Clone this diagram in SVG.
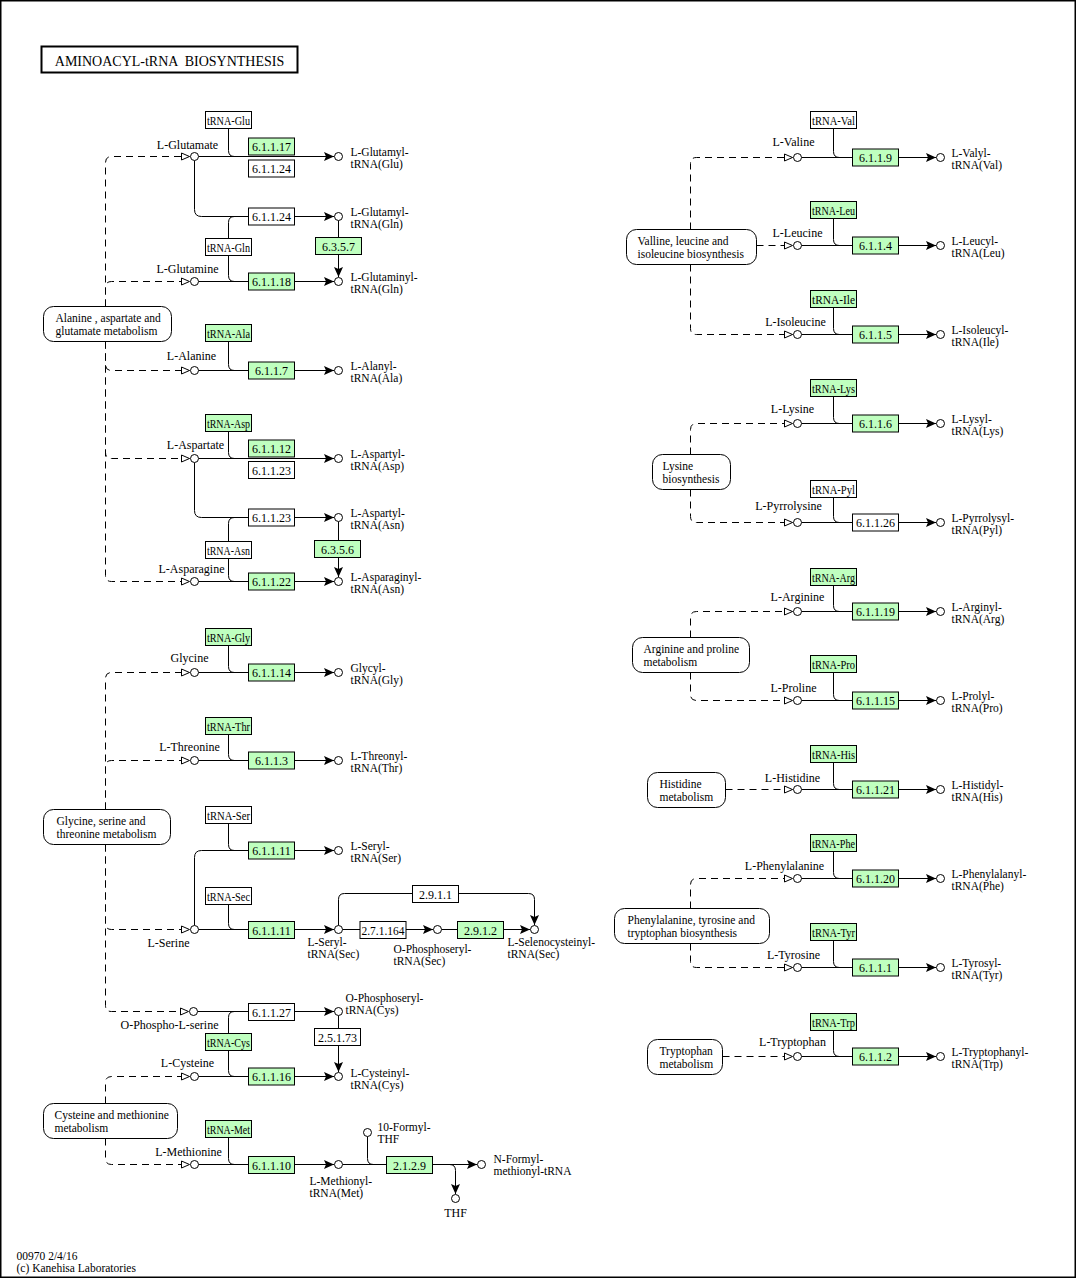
<svg xmlns="http://www.w3.org/2000/svg" width="1076" height="1278" viewBox="0 0 1076 1278">
<style>
text{font-family:"Liberation Serif","Times New Roman",serif;font-size:12px;fill:#000}
.t2{font-size:11.5px}
.m{text-anchor:middle}
.b rect{fill:#fff;stroke:#000;stroke-width:1}
.g rect{fill:#bfffbf;stroke:#000;stroke-width:1}
.p rect{fill:#fff;stroke:#000;stroke-width:1}
circle{fill:#fff;stroke:#000;stroke-width:1}
#conn path{fill:none;stroke:#000;stroke-width:1}
#conn .d{stroke-dasharray:7 5;marker-end:url(#ha)}
#conn .a{marker-end:url(#fa)}
</style>
<defs>
<marker id="fa" markerUnits="userSpaceOnUse" markerWidth="11" markerHeight="10" refX="10" refY="4.5" orient="auto" overflow="visible">
<path d="M0,0 L10,4.5 L0,9 L2,4.5 z" fill="#000" stroke="none"/>
</marker>
<marker id="ha" markerUnits="userSpaceOnUse" markerWidth="10" markerHeight="8" refX="8" refY="3.5" orient="auto" overflow="visible">
<path d="M0,0 L8,3.5 L0,7 z" fill="#fff" stroke="#000" stroke-width="1" stroke-dasharray="none"/>
</marker>
</defs>
<rect x="0.75" y="0.75" width="1074.5" height="1276.5" fill="#fff" stroke="#000" stroke-width="1.5"/>
<g transform="translate(0.5,0.5)">
<g id="title">
<rect x="41" y="46" width="256" height="26" fill="#fff" stroke="#000" stroke-width="2"/>
<text x="169" y="65" class="m" style="font-size:14px" xml:space="preserve">AMINOACYL-tRNA  BIOSYNTHESIS</text>
</g>

<g id="conn">
<path class="d" d="M105,306 V162 Q105,156 111,156 H189"/>
<path class="d" d="M105,306 V287 Q105,281 111,281 H189"/>
<path class="d" d="M105,341 V364 Q105,370 111,370 H189"/>
<path class="d" d="M105,341 V452 Q105,458 111,458 H189"/>
<path class="d" d="M105,341 V575 Q105,581 111,581 H189"/>
<path class="d" d="M105,809 V678 Q105,672 111,672 H189"/>
<path class="d" d="M105,809 V766 Q105,760 111,760 H189"/>
<path class="d" d="M105,844 V923 Q105,929 111,929 H189"/>
<path class="d" d="M105,844 V1005 Q105,1011 111,1011 H188"/>
<path class="d" d="M105,1103 V1082 Q105,1076 111,1076 H189"/>
<path class="d" d="M105,1138 V1158 Q105,1164 111,1164 H189"/>
<path class="d" d="M690,229 V163 Q690,157 696,157 H792"/>
<path class="d" d="M756,245 H792"/>
<path class="d" d="M690,264 V328 Q690,334 696,334 H792"/>
<path class="d" d="M690,454 V429 Q690,423 696,423 H792"/>
<path class="d" d="M690,489 V516 Q690,522 696,522 H792"/>
<path class="d" d="M690,637 V617 Q690,611 696,611 H792"/>
<path class="d" d="M690,672 V694 Q690,700 696,700 H792"/>
<path class="d" d="M725,789 H792"/>
<path class="d" d="M690,908 V884 Q690,878 696,878 H792"/>
<path class="d" d="M690,943 V961 Q690,967 696,967 H792"/>
<path class="d" d="M722,1056 H792"/>
<path class="a" d="M198,156 H333.5"/>
<path d="M228,128 V150 Q228,156 234,156"/>
<path class="a" d="M194,160 V209 Q194,216 201,216 H333.5"/>
<path d="M228,238 V222 Q228,216 234,216"/>
<path d="M228,255 V275 Q228,281 234,281"/>
<path class="a" d="M338,220 V276.5"/>
<path class="a" d="M198,281 H333.5"/>
<path class="a" d="M198,370 H333.5"/>
<path d="M228,341 V364 Q228,370 234,370"/>
<path class="a" d="M198,458 H333.5"/>
<path d="M228,431 V452 Q228,458 234,458"/>
<path class="a" d="M194,462 V510 Q194,517 201,517 H333.5"/>
<path d="M228,541 V523 Q228,517 234,517"/>
<path d="M228,558 V575 Q228,581 234,581"/>
<path class="a" d="M338,521 V576.5"/>
<path class="a" d="M198,581 H333.5"/>
<path class="a" d="M198,672 H333.5"/>
<path d="M228,645 V666 Q228,672 234,672"/>
<path class="a" d="M198,760 H333.5"/>
<path d="M228,734 V754 Q228,760 234,760"/>
<path class="a" d="M194,925 V857 Q194,850 201,850 H333.5"/>
<path d="M228,823 V844 Q228,850 234,850"/>
<path class="a" d="M198,929 H333.5"/>
<path d="M228,904 V923 Q228,929 234,929"/>
<path class="a" d="M342,929 H432.5"/>
<path class="a" d="M441,929 H529.5"/>
<path class="a" d="M338,925 V899 Q338,893 344,893 H528 Q534,893 534,899 V924.5"/>
<path class="a" d="M197,1011 H333.5"/>
<path d="M228,1033 V1017 Q228,1011 234,1011"/>
<path d="M228,1050 V1070 Q228,1076 234,1076"/>
<path class="a" d="M338,1015 V1071.5"/>
<path class="a" d="M198,1076 H333.5"/>
<path class="a" d="M198,1164 H333.5"/>
<path d="M228,1137 V1158 Q228,1164 234,1164"/>
<path class="a" d="M342,1164 H476.5"/>
<path d="M367,1136 V1158 Q367,1164 373,1164"/>
<path class="a" d="M449,1164 Q455,1164 455,1170 V1193.5"/>
<path class="a" d="M801,157 H935.5"/><path d="M833,128 V151 Q833,157 839,157"/>
<path class="a" d="M801,245 H935.5"/><path d="M833,218 V239 Q833,245 839,245"/>
<path class="a" d="M801,334 H935.5"/><path d="M833,307 V328 Q833,334 839,334"/>
<path class="a" d="M801,423 H935.5"/><path d="M833,396 V417 Q833,423 839,423"/>
<path class="a" d="M801,522 H935.5"/><path d="M833,497 V516 Q833,522 839,522"/>
<path class="a" d="M801,611 H935.5"/><path d="M833,585 V605 Q833,611 839,611"/>
<path class="a" d="M801,700 H935.5"/><path d="M833,672 V694 Q833,700 839,700"/>
<path class="a" d="M801,789 H935.5"/><path d="M833,762 V783 Q833,789 839,789"/>
<path class="a" d="M801,878 H935.5"/><path d="M833,851 V872 Q833,878 839,878"/>
<path class="a" d="M801,967 H935.5"/><path d="M833,940 V961 Q833,967 839,967"/>
<path class="a" d="M801,1056 H935.5"/><path d="M833,1030 V1050 Q833,1056 839,1056"/>
</g>

<g id="map_ala_asp_glu" class="p"><rect x="43" y="306" width="128" height="35" rx="10"/><text class="t2" x="55" y="321.5">Alanine , aspartate and<tspan x="55" dy="12.8">glutamate metabolism</tspan></text></g>
<g id="map_gly_ser_thr" class="p"><rect x="43" y="809" width="127" height="35" rx="10"/><text class="t2" x="56" y="824.5">Glycine, serine and<tspan x="56" dy="12.8">threonine metabolism</tspan></text></g>
<g id="map_cys_met" class="p"><rect x="43" y="1103" width="134" height="35" rx="10"/><text class="t2" x="54" y="1118.5">Cysteine and methionine<tspan x="54" dy="12.8">metabolism</tspan></text></g>
<g id="map_val_leu_ile" class="p"><rect x="626" y="229" width="130" height="35" rx="10"/><text class="t2" x="637" y="244.5">Valline, leucine and<tspan x="637" dy="12.8">isoleucine biosynthesis</tspan></text></g>
<g id="map_lys" class="p"><rect x="652" y="454" width="78" height="35" rx="10"/><text class="t2" x="662" y="469.5">Lysine<tspan x="662" dy="12.8">biosynthesis</tspan></text></g>
<g id="map_arg_pro" class="p"><rect x="632" y="637" width="117" height="35" rx="10"/><text class="t2" x="643" y="652.5">Arginine and proline<tspan x="643" dy="12.8">metabolism</tspan></text></g>
<g id="map_his" class="p"><rect x="647" y="772" width="78" height="35" rx="10"/><text class="t2" x="659" y="787.5">Histidine<tspan x="659" dy="12.8">metabolism</tspan></text></g>
<g id="map_phe_tyr_trp" class="p"><rect x="614" y="908" width="155" height="35" rx="10"/><text class="t2" x="627" y="923.5">Phenylalanine, tyrosine and<tspan x="627" dy="12.8">tryptophan biosynthesis</tspan></text></g>
<g id="map_trp" class="p"><rect x="647" y="1039" width="75" height="35" rx="10"/><text class="t2" x="659" y="1054.5">Tryptophan<tspan x="659" dy="12.8">metabolism</tspan></text></g>

<g id="trna_glu" class="b"><rect x="205" y="111" width="46" height="17"/><text x="228" y="124" class="m" textLength="43" lengthAdjust="spacingAndGlyphs">tRNA-Glu</text></g>
<g id="trna_gln" class="b"><rect x="205" y="238" width="46" height="17"/><text x="228" y="251" class="m" textLength="43" lengthAdjust="spacingAndGlyphs">tRNA-Gln</text></g>
<g id="trna_ala" class="g"><rect x="205" y="324" width="46" height="17"/><text x="228" y="337" class="m" textLength="43" lengthAdjust="spacingAndGlyphs">tRNA-Ala</text></g>
<g id="trna_asp" class="g"><rect x="205" y="414" width="46" height="17"/><text x="228" y="427" class="m" textLength="43" lengthAdjust="spacingAndGlyphs">tRNA-Asp</text></g>
<g id="trna_asn" class="b"><rect x="205" y="541" width="46" height="17"/><text x="228" y="554" class="m" textLength="43" lengthAdjust="spacingAndGlyphs">tRNA-Asn</text></g>
<g id="trna_gly" class="g"><rect x="205" y="628" width="46" height="17"/><text x="228" y="641" class="m" textLength="43" lengthAdjust="spacingAndGlyphs">tRNA-Gly</text></g>
<g id="trna_thr" class="g"><rect x="205" y="717" width="46" height="17"/><text x="228" y="730" class="m" textLength="43" lengthAdjust="spacingAndGlyphs">tRNA-Thr</text></g>
<g id="trna_ser" class="b"><rect x="205" y="806" width="46" height="17"/><text x="228" y="819" class="m" textLength="43" lengthAdjust="spacingAndGlyphs">tRNA-Ser</text></g>
<g id="trna_sec" class="b"><rect x="205" y="887" width="46" height="17"/><text x="228" y="900" class="m" textLength="43" lengthAdjust="spacingAndGlyphs">tRNA-Sec</text></g>
<g id="trna_cys" class="g"><rect x="205" y="1033" width="46" height="17"/><text x="228" y="1046" class="m" textLength="43" lengthAdjust="spacingAndGlyphs">tRNA-Cys</text></g>
<g id="trna_met" class="g"><rect x="205" y="1120" width="46" height="17"/><text x="228" y="1133" class="m" textLength="43" lengthAdjust="spacingAndGlyphs">tRNA-Met</text></g>
<g id="trna_val" class="b"><rect x="810" y="111" width="46" height="17"/><text x="833" y="124" class="m" textLength="43" lengthAdjust="spacingAndGlyphs">tRNA-Val</text></g>
<g id="trna_leu" class="g"><rect x="810" y="201" width="46" height="17"/><text x="833" y="214" class="m" textLength="43" lengthAdjust="spacingAndGlyphs">tRNA-Leu</text></g>
<g id="trna_ile" class="g"><rect x="810" y="290" width="46" height="17"/><text x="833" y="303" class="m" textLength="43" lengthAdjust="spacingAndGlyphs">tRNA-Ile</text></g>
<g id="trna_lys" class="g"><rect x="810" y="379" width="46" height="17"/><text x="833" y="392" class="m" textLength="43" lengthAdjust="spacingAndGlyphs">tRNA-Lys</text></g>
<g id="trna_pyl" class="b"><rect x="810" y="480" width="46" height="17"/><text x="833" y="493" class="m" textLength="43" lengthAdjust="spacingAndGlyphs">tRNA-Pyl</text></g>
<g id="trna_arg" class="g"><rect x="810" y="568" width="46" height="17"/><text x="833" y="581" class="m" textLength="43" lengthAdjust="spacingAndGlyphs">tRNA-Arg</text></g>
<g id="trna_pro" class="g"><rect x="810" y="655" width="46" height="17"/><text x="833" y="668" class="m" textLength="43" lengthAdjust="spacingAndGlyphs">tRNA-Pro</text></g>
<g id="trna_his" class="g"><rect x="810" y="745" width="46" height="17"/><text x="833" y="758" class="m" textLength="43" lengthAdjust="spacingAndGlyphs">tRNA-His</text></g>
<g id="trna_phe" class="g"><rect x="810" y="834" width="46" height="17"/><text x="833" y="847" class="m" textLength="43" lengthAdjust="spacingAndGlyphs">tRNA-Phe</text></g>
<g id="trna_tyr" class="g"><rect x="810" y="923" width="46" height="17"/><text x="833" y="936" class="m" textLength="43" lengthAdjust="spacingAndGlyphs">tRNA-Tyr</text></g>
<g id="trna_trp" class="g"><rect x="810" y="1013" width="46" height="17"/><text x="833" y="1026" class="m" textLength="43" lengthAdjust="spacingAndGlyphs">tRNA-Trp</text></g>

<g id="ec_6_1_1_17" class="g"><rect x="248" y="137.5" width="46" height="17"/><text x="271" y="150.5" class="m">6.1.1.17</text></g>
<g id="ec_6_1_1_24a" class="b"><rect x="248" y="159.5" width="46" height="17"/><text x="271" y="172.5" class="m">6.1.1.24</text></g>
<g id="ec_6_1_1_24b" class="b"><rect x="248" y="207.5" width="46" height="17"/><text x="271" y="220.5" class="m">6.1.1.24</text></g>
<g id="ec_6_3_5_7" class="g"><rect x="315" y="237" width="46" height="17"/><text x="338" y="250" class="m">6.3.5.7</text></g>
<g id="ec_6_1_1_18" class="g"><rect x="248" y="272.5" width="46" height="17"/><text x="271" y="285.5" class="m">6.1.1.18</text></g>
<g id="ec_6_1_1_7" class="g"><rect x="248" y="361.5" width="46" height="17"/><text x="271" y="374.5" class="m">6.1.1.7</text></g>
<g id="ec_6_1_1_12" class="g"><rect x="248" y="439.5" width="46" height="17"/><text x="271" y="452.5" class="m">6.1.1.12</text></g>
<g id="ec_6_1_1_23a" class="b"><rect x="248" y="461" width="46" height="17"/><text x="271" y="474" class="m">6.1.1.23</text></g>
<g id="ec_6_1_1_23b" class="b"><rect x="248" y="508.5" width="46" height="17"/><text x="271" y="521.5" class="m">6.1.1.23</text></g>
<g id="ec_6_3_5_6" class="g"><rect x="314" y="540" width="46" height="17"/><text x="337" y="553" class="m">6.3.5.6</text></g>
<g id="ec_6_1_1_22" class="g"><rect x="248" y="572.5" width="46" height="17"/><text x="271" y="585.5" class="m">6.1.1.22</text></g>
<g id="ec_6_1_1_14" class="g"><rect x="248" y="663.5" width="46" height="17"/><text x="271" y="676.5" class="m">6.1.1.14</text></g>
<g id="ec_6_1_1_3" class="g"><rect x="248" y="751.5" width="46" height="17"/><text x="271" y="764.5" class="m">6.1.1.3</text></g>
<g id="ec_6_1_1_11a" class="g"><rect x="248" y="841.5" width="46" height="17"/><text x="271" y="854.5" class="m">6.1.1.11</text></g>
<g id="ec_6_1_1_11b" class="g"><rect x="248" y="921" width="46" height="17"/><text x="271" y="934" class="m">6.1.1.11</text></g>
<g id="ec_2_7_1_164" class="b"><rect x="359.5" y="921" width="46" height="17"/><text x="382.5" y="934" class="m" textLength="43" lengthAdjust="spacingAndGlyphs">2.7.1.164</text></g>
<g id="ec_2_9_1_2" class="g"><rect x="457" y="921" width="46" height="17"/><text x="480" y="934" class="m">2.9.1.2</text></g>
<g id="ec_2_9_1_1" class="b"><rect x="412" y="885" width="46" height="17"/><text x="435" y="898" class="m">2.9.1.1</text></g>
<g id="ec_6_1_1_27" class="b"><rect x="248" y="1003" width="46" height="17"/><text x="271" y="1016" class="m">6.1.1.27</text></g>
<g id="ec_2_5_1_73" class="b"><rect x="314" y="1028" width="46" height="17"/><text x="337" y="1041" class="m">2.5.1.73</text></g>
<g id="ec_6_1_1_16" class="g"><rect x="248" y="1067.5" width="46" height="17"/><text x="271" y="1080.5" class="m">6.1.1.16</text></g>
<g id="ec_6_1_1_10" class="g"><rect x="248" y="1156" width="46" height="17"/><text x="271" y="1169" class="m">6.1.1.10</text></g>
<g id="ec_2_1_2_9" class="g"><rect x="386" y="1156" width="46" height="17"/><text x="409" y="1169" class="m">2.1.2.9</text></g>
<g id="ec_6_1_1_9" class="g"><rect x="852" y="148.5" width="46" height="17"/><text x="875" y="161.5" class="m">6.1.1.9</text></g>
<g id="ec_6_1_1_4" class="g"><rect x="852" y="236.5" width="46" height="17"/><text x="875" y="249.5" class="m">6.1.1.4</text></g>
<g id="ec_6_1_1_5" class="g"><rect x="852" y="325.5" width="46" height="17"/><text x="875" y="338.5" class="m">6.1.1.5</text></g>
<g id="ec_6_1_1_6" class="g"><rect x="852" y="414.5" width="46" height="17"/><text x="875" y="427.5" class="m">6.1.1.6</text></g>
<g id="ec_6_1_1_26" class="b"><rect x="852" y="513.5" width="46" height="17"/><text x="875" y="526.5" class="m">6.1.1.26</text></g>
<g id="ec_6_1_1_19" class="g"><rect x="852" y="602.5" width="46" height="17"/><text x="875" y="615.5" class="m">6.1.1.19</text></g>
<g id="ec_6_1_1_15" class="g"><rect x="852" y="691.5" width="46" height="17"/><text x="875" y="704.5" class="m">6.1.1.15</text></g>
<g id="ec_6_1_1_21" class="g"><rect x="852" y="780.5" width="46" height="17"/><text x="875" y="793.5" class="m">6.1.1.21</text></g>
<g id="ec_6_1_1_20" class="g"><rect x="852" y="869.5" width="46" height="17"/><text x="875" y="882.5" class="m">6.1.1.20</text></g>
<g id="ec_6_1_1_1" class="g"><rect x="852" y="958.5" width="46" height="17"/><text x="875" y="971.5" class="m">6.1.1.1</text></g>
<g id="ec_6_1_1_2" class="g"><rect x="852" y="1047.5" width="46" height="17"/><text x="875" y="1060.5" class="m">6.1.1.2</text></g>

<g id="c_glutamate"><circle cx="194" cy="156" r="4"/><text x="187" y="148" class="m">L-Glutamate</text></g>
<g id="c_glutamine"><circle cx="194" cy="281" r="4"/><text x="187" y="272" class="m">L-Glutamine</text></g>
<g id="c_alanine"><circle cx="194" cy="370" r="4"/><text x="191" y="359" class="m">L-Alanine</text></g>
<g id="c_aspartate"><circle cx="194" cy="458" r="4"/><text x="195" y="448" class="m">L-Aspartate</text></g>
<g id="c_asparagine"><circle cx="194" cy="581" r="4"/><text x="191" y="572" class="m">L-Asparagine</text></g>
<g id="c_glycine"><circle cx="194" cy="672" r="4"/><text x="189" y="661" class="m">Glycine</text></g>
<g id="c_threonine"><circle cx="194" cy="760" r="4"/><text x="189" y="750" class="m">L-Threonine</text></g>
<g id="c_serine"><circle cx="194" cy="929" r="4"/><text x="168" y="946" class="m">L-Serine</text></g>
<g id="c_ophosphoserine"><circle cx="193" cy="1011" r="4"/><text x="169" y="1028" class="m">O-Phospho-L-serine</text></g>
<g id="c_cysteine"><circle cx="194" cy="1076" r="4"/><text x="187" y="1066" class="m">L-Cysteine</text></g>
<g id="c_methionine"><circle cx="194" cy="1164" r="4"/><text x="188" y="1155" class="m">L-Methionine</text></g>

<g id="c_glu_trna_glu"><circle cx="338" cy="156" r="4"/><text class="t2" x="350" y="155">L-Glutamyl-<tspan x="350" dy="12.8">tRNA(Glu)</tspan></text></g>
<g id="c_glu_trna_gln"><circle cx="338" cy="216" r="4"/><text class="t2" x="350" y="215">L-Glutamyl-<tspan x="350" dy="12.8">tRNA(Gln)</tspan></text></g>
<g id="c_gln_trna_gln"><circle cx="338" cy="281" r="4"/><text class="t2" x="350" y="280">L-Glutaminyl-<tspan x="350" dy="12.8">tRNA(Gln)</tspan></text></g>
<g id="c_ala_trna"><circle cx="338" cy="370" r="4"/><text class="t2" x="350" y="369">L-Alanyl-<tspan x="350" dy="12.8">tRNA(Ala)</tspan></text></g>
<g id="c_asp_trna_asp"><circle cx="338" cy="458" r="4"/><text class="t2" x="350" y="457">L-Aspartyl-<tspan x="350" dy="12.8">tRNA(Asp)</tspan></text></g>
<g id="c_asp_trna_asn"><circle cx="338" cy="517" r="4"/><text class="t2" x="350" y="516">L-Aspartyl-<tspan x="350" dy="12.8">tRNA(Asn)</tspan></text></g>
<g id="c_asn_trna"><circle cx="338" cy="581" r="4"/><text class="t2" x="350" y="580">L-Asparaginyl-<tspan x="350" dy="12.8">tRNA(Asn)</tspan></text></g>
<g id="c_gly_trna"><circle cx="338" cy="672" r="4"/><text class="t2" x="350" y="671">Glycyl-<tspan x="350" dy="12.8">tRNA(Gly)</tspan></text></g>
<g id="c_thr_trna"><circle cx="338" cy="760" r="4"/><text class="t2" x="350" y="759">L-Threonyl-<tspan x="350" dy="12.8">tRNA(Thr)</tspan></text></g>
<g id="c_ser_trna_ser"><circle cx="338" cy="850" r="4"/><text class="t2" x="350" y="849">L-Seryl-<tspan x="350" dy="12.8">tRNA(Ser)</tspan></text></g>
<g id="c_ser_trna_sec"><circle cx="338" cy="929" r="4"/><text class="t2" x="307" y="945">L-Seryl-<tspan x="307" dy="12.8">tRNA(Sec)</tspan></text></g>
<g id="c_pser_trna_sec"><circle cx="437" cy="929" r="4"/><text class="t2" x="393" y="952">O-Phosphoseryl-<tspan x="393" dy="12.8">tRNA(Sec)</tspan></text></g>
<g id="c_sec_trna"><circle cx="534" cy="929" r="4"/><text class="t2" x="507" y="945">L-Selenocysteinyl-<tspan x="507" dy="12.8">tRNA(Sec)</tspan></text></g>
<g id="c_pser_trna_cys"><circle cx="338" cy="1011" r="4"/><text class="t2" x="345" y="1001">O-Phosphoseryl-<tspan x="345" dy="12.8">tRNA(Cys)</tspan></text></g>
<g id="c_cys_trna"><circle cx="338" cy="1076" r="4"/><text class="t2" x="350" y="1076">L-Cysteinyl-<tspan x="350" dy="12.8">tRNA(Cys)</tspan></text></g>
<g id="c_met_trna"><circle cx="338" cy="1164" r="4"/><text class="t2" x="309" y="1184">L-Methionyl-<tspan x="309" dy="12.8">tRNA(Met)</tspan></text></g>
<g id="c_formylthf"><circle cx="367" cy="1132" r="4"/><text class="t2" x="377" y="1130">10-Formyl-<tspan x="377" dy="12.8">THF</tspan></text></g>
<g id="c_fmet_trna"><circle cx="481" cy="1164" r="4"/><text class="t2" x="493" y="1162">N-Formyl-<tspan x="493" dy="12.8">methionyl-tRNA</tspan></text></g>
<g id="c_thf"><circle cx="455" cy="1198" r="4"/><text x="455" y="1216" class="m">THF</text></g>

<g id="c_valine"><circle cx="797" cy="157" r="4"/><text x="793" y="145" class="m">L-Valine</text></g>
<g id="c_leucine"><circle cx="797" cy="245" r="4"/><text x="797" y="236" class="m">L-Leucine</text></g>
<g id="c_isoleucine"><circle cx="797" cy="334" r="4"/><text x="795" y="325" class="m">L-Isoleucine</text></g>
<g id="c_lysine"><circle cx="797" cy="423" r="4"/><text x="792" y="412" class="m">L-Lysine</text></g>
<g id="c_pyrrolysine"><circle cx="797" cy="522" r="4"/><text x="788" y="509" class="m">L-Pyrrolysine</text></g>
<g id="c_arginine"><circle cx="797" cy="611" r="4"/><text x="797" y="600" class="m">L-Arginine</text></g>
<g id="c_proline"><circle cx="797" cy="700" r="4"/><text x="793" y="691" class="m">L-Proline</text></g>
<g id="c_histidine"><circle cx="797" cy="789" r="4"/><text x="792" y="781" class="m">L-Histidine</text></g>
<g id="c_phenylalanine"><circle cx="797" cy="878" r="4"/><text x="784" y="869" class="m">L-Phenylalanine</text></g>
<g id="c_tyrosine"><circle cx="797" cy="967" r="4"/><text x="793" y="958" class="m">L-Tyrosine</text></g>
<g id="c_tryptophan"><circle cx="797" cy="1056" r="4"/><text x="792" y="1045" class="m">L-Tryptophan</text></g>

<g id="c_val_trna"><circle cx="940" cy="157" r="4"/><text class="t2" x="951" y="156">L-Valyl-<tspan x="951" dy="12.8">tRNA(Val)</tspan></text></g>
<g id="c_leu_trna"><circle cx="940" cy="245" r="4"/><text class="t2" x="951" y="244">L-Leucyl-<tspan x="951" dy="12.8">tRNA(Leu)</tspan></text></g>
<g id="c_ile_trna"><circle cx="940" cy="334" r="4"/><text class="t2" x="951" y="333">L-Isoleucyl-<tspan x="951" dy="12.8">tRNA(Ile)</tspan></text></g>
<g id="c_lys_trna"><circle cx="940" cy="423" r="4"/><text class="t2" x="951" y="422">L-Lysyl-<tspan x="951" dy="12.8">tRNA(Lys)</tspan></text></g>
<g id="c_pyl_trna"><circle cx="940" cy="522" r="4"/><text class="t2" x="951" y="521">L-Pyrrolysyl-<tspan x="951" dy="12.8">tRNA(Pyl)</tspan></text></g>
<g id="c_arg_trna"><circle cx="940" cy="611" r="4"/><text class="t2" x="951" y="610">L-Arginyl-<tspan x="951" dy="12.8">tRNA(Arg)</tspan></text></g>
<g id="c_pro_trna"><circle cx="940" cy="700" r="4"/><text class="t2" x="951" y="699">L-Prolyl-<tspan x="951" dy="12.8">tRNA(Pro)</tspan></text></g>
<g id="c_his_trna"><circle cx="940" cy="789" r="4"/><text class="t2" x="951" y="788">L-Histidyl-<tspan x="951" dy="12.8">tRNA(His)</tspan></text></g>
<g id="c_phe_trna"><circle cx="940" cy="878" r="4"/><text class="t2" x="951" y="877">L-Phenylalanyl-<tspan x="951" dy="12.8">tRNA(Phe)</tspan></text></g>
<g id="c_tyr_trna"><circle cx="940" cy="967" r="4"/><text class="t2" x="951" y="966">L-Tyrosyl-<tspan x="951" dy="12.8">tRNA(Tyr)</tspan></text></g>
<g id="c_trp_trna"><circle cx="940" cy="1056" r="4"/><text class="t2" x="951" y="1055">L-Tryptophanyl-<tspan x="951" dy="12.8">tRNA(Trp)</tspan></text></g>

<g id="footer"><text class="t2" x="16" y="1259">00970 2/4/16<tspan x="16" dy="12.8">(c) Kanehisa Laboratories</tspan></text></g>
</g>
</svg>
